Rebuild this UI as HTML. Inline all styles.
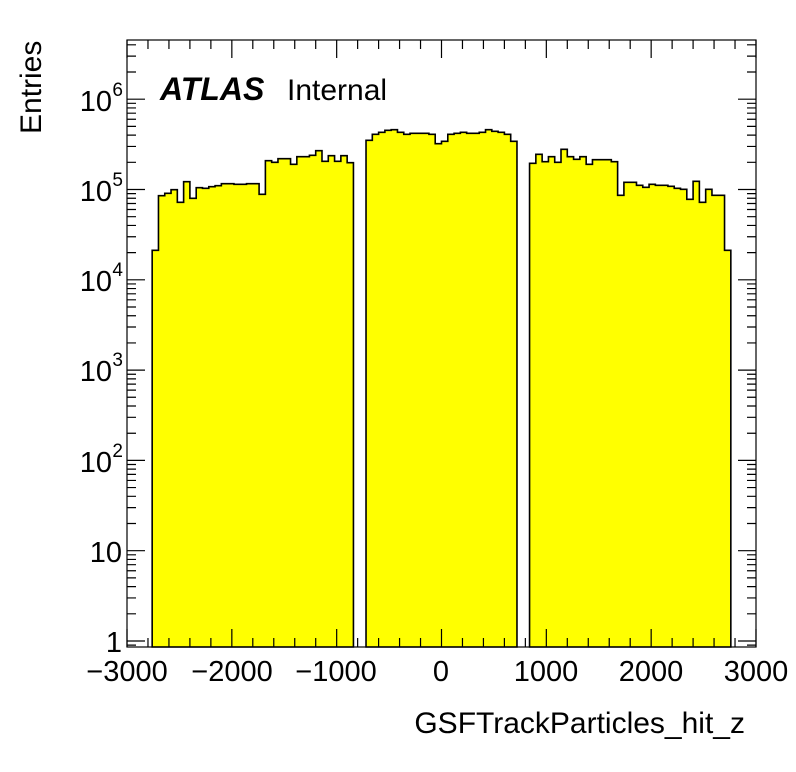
<!DOCTYPE html>
<html><head><meta charset="utf-8"><style>body{margin:0;background:#fff}svg{display:block}text{font-family:"Liberation Sans",sans-serif}</style></head><body>
<svg id="s" width="796" height="772" viewBox="0 0 796 772" xmlns="http://www.w3.org/2000/svg">
<path id="h" fill="#ffff00" stroke="#000" stroke-width="1.6"/>
<g id="ax" stroke="#000" stroke-width="1.2" fill="none"></g>
<rect x="127" y="40" width="629" height="607" fill="none" stroke="#000" stroke-width="1.2"/>
<g font-size="29" text-anchor="middle">
<text x="127" y="681">−3000</text><text x="232" y="681">−2000</text><text x="336" y="681">−1000</text>
<text x="441" y="681">0</text><text x="546" y="681">1000</text><text x="651" y="681">2000</text><text x="756" y="681">3000</text>
</g>
<g font-size="29" text-anchor="end">
<text x="122" y="652">1</text><text x="122" y="562">10</text>
<text x="112" y="472">10</text><text x="123" y="457" font-size="19">2</text>
<text x="112" y="381">10</text><text x="123" y="366" font-size="19">3</text>
<text x="112" y="291">10</text><text x="123" y="276" font-size="19">4</text>
<text x="112" y="201">10</text><text x="123" y="186" font-size="19">5</text>
<text x="112" y="111">10</text><text x="123" y="96" font-size="19">6</text>
</g>
<text x="745" y="733" font-size="30" text-anchor="end">GSFTrackParticles_hit_z</text>
<text transform="translate(41,134) rotate(-90)" font-size="30">Entries</text>
<text x="160" y="100" font-size="32" font-weight="bold" font-style="italic">ATLAS</text>
<text x="287" y="100" font-size="30">Internal</text>
</svg>
<script>
var tops=[250.3,195.7,193.3,189.7,202.3,181.7,198.3,187.7,188.3,186.7,185.7,183.7,183.7,184.3,184.3,183.7,183.7,194.3,160.7,162.3,158.7,158.7,164.3,156.7,156.7,155.3,150.7,161.3,155.7,161.3,155.7,162.7,
null,null,
140.3,134.3,132.3,130.3,129.7,132.3,134.3,133.3,133.3,133.3,134.3,143.7,141.3,134.3,133.3,132.3,133.3,133.3,132.3,129.7,131.3,132.3,134.3,141.3,
null,null,
163.3,154.3,161.7,156.7,162.3,149.3,156.7,159.3,156.7,164.3,159.7,159.7,159.7,161.7,195.3,182.3,182.3,185.3,187.3,184.3,185.3,185.3,186.3,188.3,189.3,199.3,181.3,202.3,189.3,195.3,195.3,250.3];
var x0=441.5-2760*0.10483,w=60*0.10483,B=647,d="";
var i=0;
while(i<tops.length){
 if(tops[i]===null){i++;continue;}
 var s=x0+i*w; d+="M"+s+","+B+"L"+s+","+tops[i];
 while(i<tops.length&&tops[i]!==null){var a=x0+i*w,b=a+w;d+="L"+a+","+tops[i]+"L"+b+","+tops[i];i++;}
 d+="L"+(x0+i*w)+","+B+"Z";
}
document.getElementById("h").setAttribute("d",d);
var g="";
for(var v=-3000;v<=3000;v+=200){var x=441.5+v*0.10483;var L=(v%1000==0)?18:9;g+="M"+x+",647v-"+L+"M"+x+",40v"+L;}
var y0=641,dec=90.3;
for(var e=-1;e<=6;e++){for(var m=1;m<10;m++){var y=y0-(e+Math.log10(m))*dec;if(y>647||y<40)continue;var L=m==1?18:9;g+="M127,"+y+"h"+L+"M756,"+y+"h-"+L;}}
var p=document.createElementNS("http://www.w3.org/2000/svg","path");p.setAttribute("d",g);document.getElementById("ax").appendChild(p);
</script>
</body></html>
